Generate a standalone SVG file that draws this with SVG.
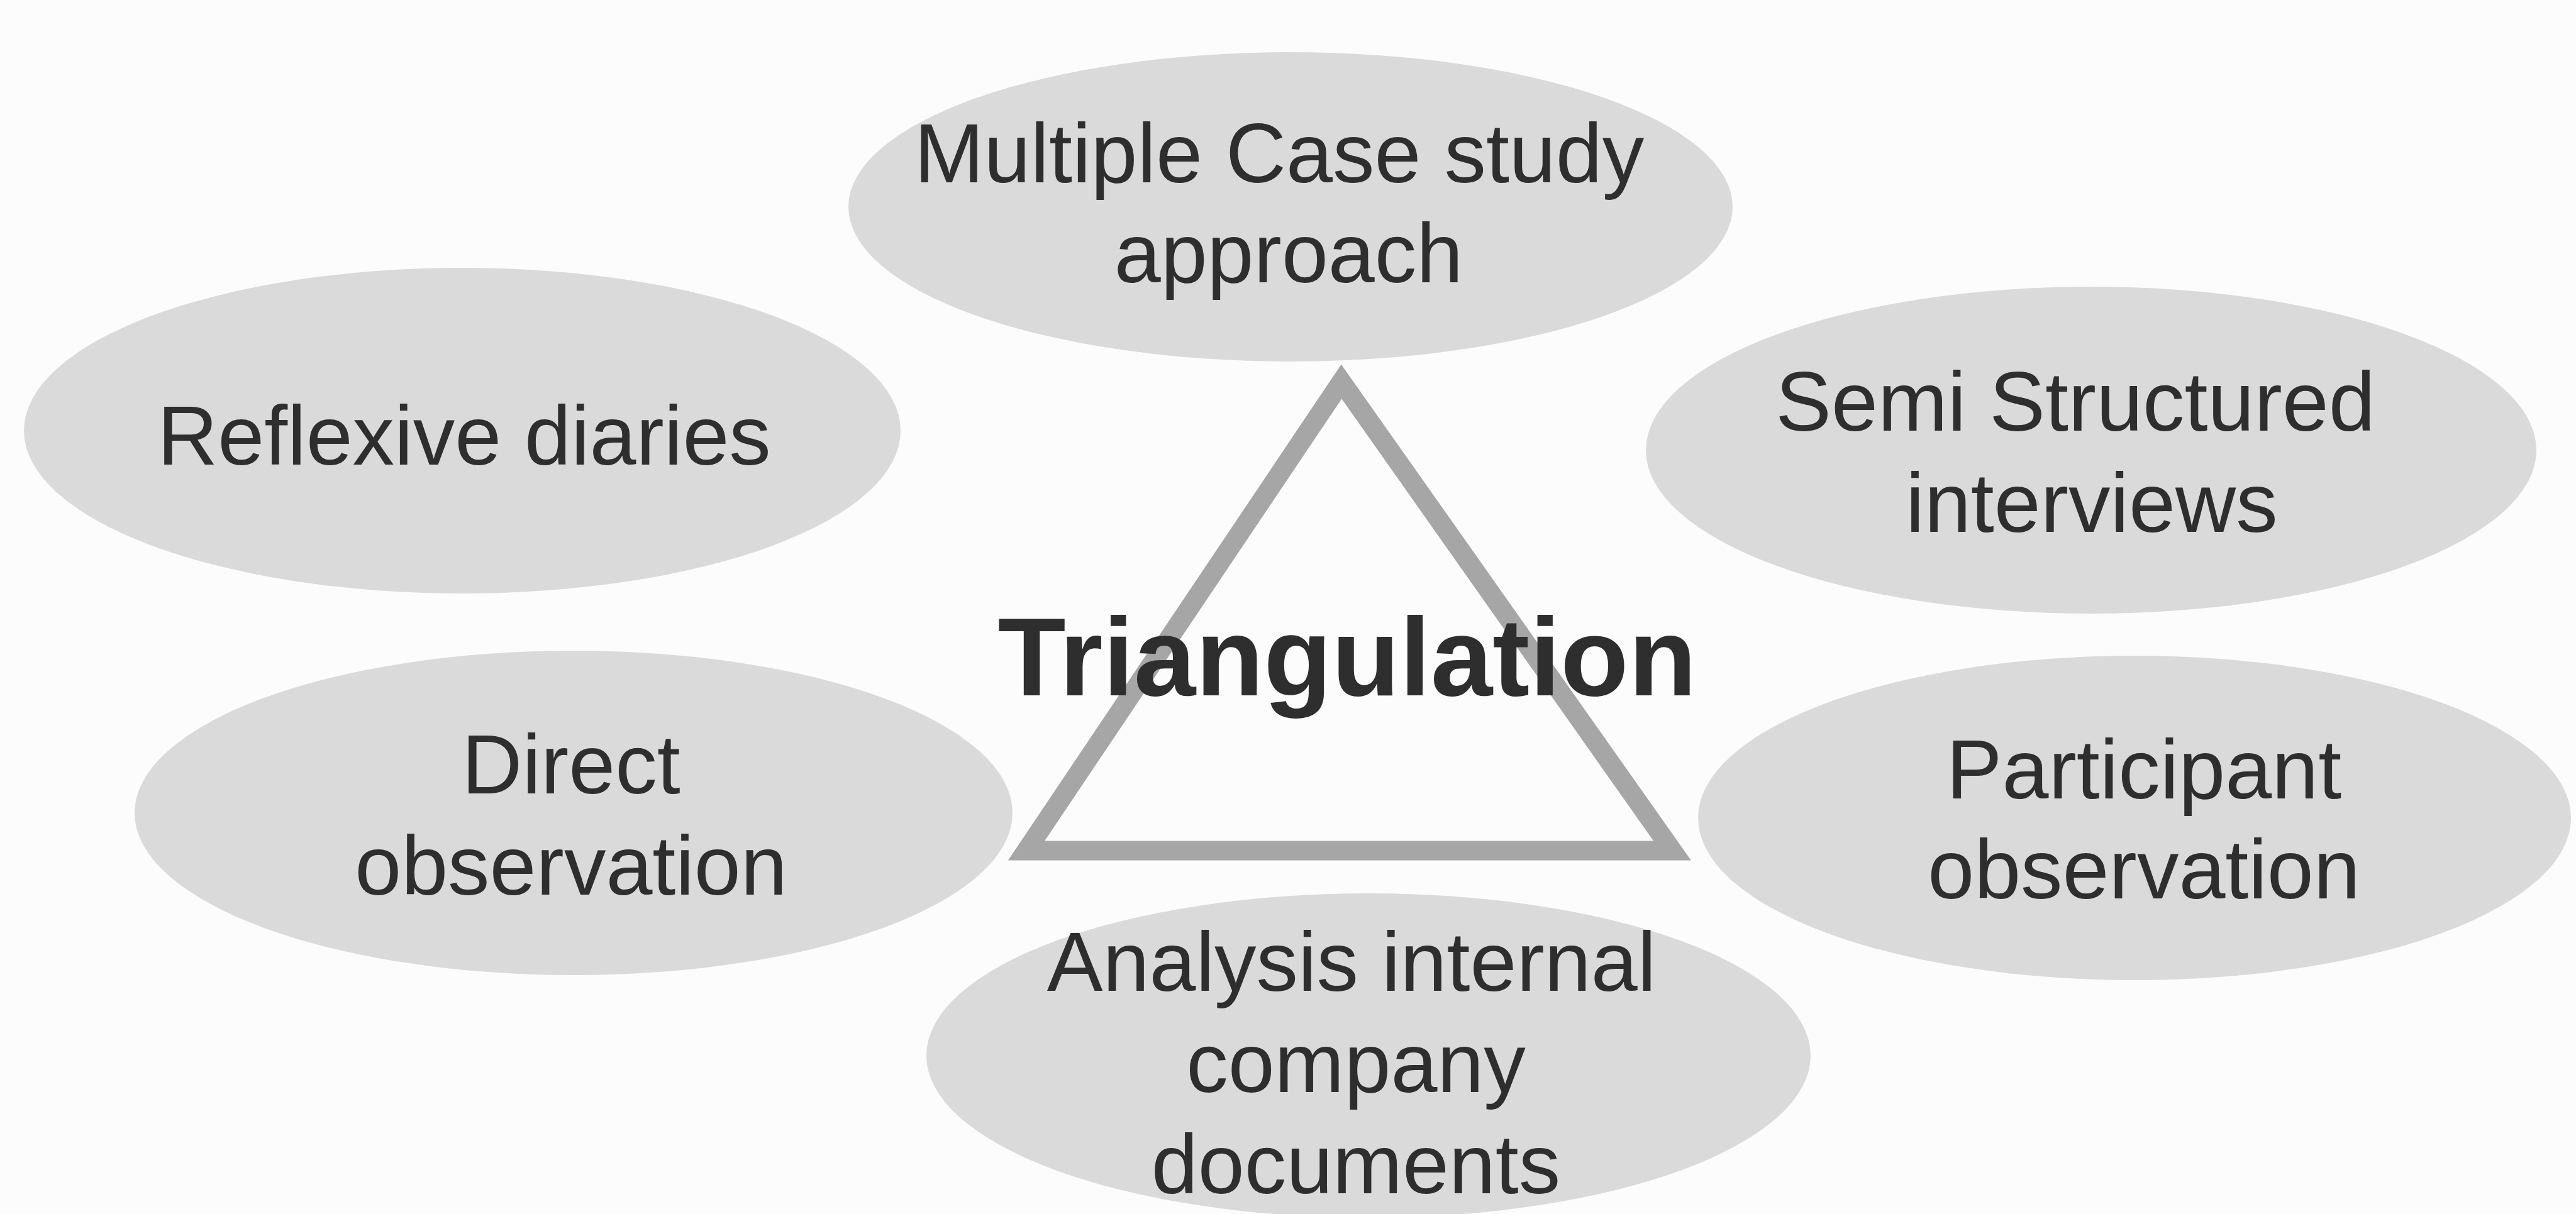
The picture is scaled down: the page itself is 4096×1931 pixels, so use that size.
<svg xmlns="http://www.w3.org/2000/svg" width="4096" height="1931" viewBox="0 0 4096 1931">
  <style>
    .bubble { fill: #dadada; }
    .label { font-family: "Liberation Sans", Arial, sans-serif; font-size: 133px; fill: #2e2e2e; text-anchor: middle; }
    .title { font-family: "Liberation Sans", Arial, sans-serif; font-size: 177px; font-weight: bold; fill: #2e2e2e; text-anchor: middle; }
    .tri { fill: none; stroke: #a6a6a6; stroke-width: 31; stroke-linejoin: miter; }
  </style>
  <rect width="4096" height="1931" fill="#fcfcfc"/>

  <g id="multiple-case-study">
    <ellipse class="bubble" cx="2052" cy="329" rx="703" ry="246"/>
    <text class="label" x="2034" y="290">Multiple Case study</text>
    <text class="label" x="2049" y="449">approach</text>
  </g>

  <g id="reflexive-diaries">
    <ellipse class="bubble" cx="735" cy="685" rx="697" ry="259"/>
    <text class="label" x="738" y="739">Reflexive diaries</text>
  </g>

  <g id="semi-structured-interviews">
    <ellipse class="bubble" cx="3325" cy="716" rx="708" ry="260"/>
    <text class="label" x="3300" y="685">Semi Structured</text>
    <text class="label" x="3326" y="846">interviews</text>
  </g>

  <g id="direct-observation">
    <ellipse class="bubble" cx="912" cy="1293" rx="698" ry="258"/>
    <text class="label" x="908" y="1262">Direct</text>
    <text class="label" x="908" y="1423">observation</text>
  </g>

  <g id="participant-observation">
    <ellipse class="bubble" cx="3394" cy="1301" rx="694" ry="258"/>
    <text class="label" x="3409" y="1270">Participant</text>
    <text class="label" x="3409" y="1429">observation</text>
  </g>

  <g id="company-documents">
    <ellipse class="bubble" cx="2176" cy="1679" rx="703" ry="258"/>
    <text class="label" x="2149" y="1576">Analysis internal</text>
    <text class="label" x="2156" y="1737">company</text>
    <text class="label" x="2156" y="1898">documents</text>
  </g>

  <g id="connectors">
    <polygon class="tri" points="2133,607 1632,1353 2659,1353"/>
  </g>

  <g id="triangulation">
    <text class="title" x="2142" y="1106">Triangulation</text>
  </g>
</svg>
